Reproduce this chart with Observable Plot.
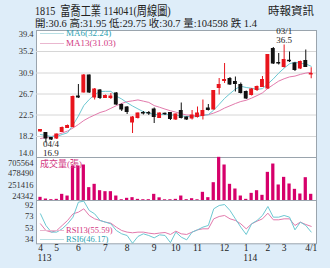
<!DOCTYPE html>
<html><head><meta charset="utf-8">
<script src="https://cdn.jsdelivr.net/npm/d3@7"></script>
<script src="https://cdn.jsdelivr.net/npm/@observablehq/plot@0.6"></script>
<style>
html,body{margin:0;padding:0;background:#deedf9;}
#c{position:relative;width:330px;height:268px;background:#deedf9;overflow:hidden;font-family:"Liberation Serif","DejaVu Serif","Noto Sans CJK TC",serif;color:#222;}
.t{position:absolute;white-space:nowrap;line-height:1;}
.p{position:absolute;left:0;}
.p svg{overflow:visible;}
</style></head>
<body><div id="c"></div>
<script>
// ---- data ----
const titleText = "1815\u2002富喬工業 114041(周線圖)";
const subtitleText = "開:30.6 高:31.95 低:29.75 收:30.7 量:104598 跌 1.4";
const sourceText = "時報資訊";

const open  = [19.2,18.9,17.9,17.8,19.1,19.9,20.1,26.2,27.0,30.4,26.0,27.4,25.9,25.9,26.8,24.5,24.0,21.0,21.9,22.9,22.9,23.6,21.9,22.75,22.9,21.6,23.3,22.0,21.8,22.1,22.3,23.8,23.6,27.9,29.3,29.7,29.1,28.5,27.1,26.5,27.5,28.1,27.8,35.7,32.9,32.1,33.35,32.8,31.8,33.3,30.6];
const high  = [19.6,19.0,18.0,18.7,20.1,20.5,26.3,28.6,30.6,30.5,27.8,27.6,26.5,26.8,27.0,24.7,24.2,22.2,22.9,23.2,23.2,23.9,22.9,22.9,23.0,22.7,24.9,22.1,23.4,24.1,25.5,24.6,27.4,29.8,32.8,30.0,30.1,28.9,27.3,27.8,28.3,30.2,34.6,36.0,34.8,36.5,35.1,33.0,33.3,35.5,31.95];
const low   = [19.1,16.9,17.4,17.6,19.0,19.8,19.9,25.8,26.9,26.8,25.5,25.6,25.8,25.6,24.4,23.2,22.6,18.8,21.7,22.5,22.4,20.8,21.8,22.4,21.4,21.4,21.7,21.4,21.5,21.9,21.5,23.3,23.5,26.5,28.8,28.4,27.1,26.7,25.6,26.3,27.2,28.0,27.6,32.6,32.5,31.9,33.0,31.2,31.6,32.0,29.75];
const close = [19.5,17.8,17.6,18.6,19.9,20.3,26.1,26.0,30.4,27.0,27.6,25.9,26.3,26.2,24.6,23.6,23.1,22.0,22.8,22.8,22.8,22.1,22.8,22.65,21.7,22.6,21.9,21.6,22.4,22.8,23.3,23.5,27.3,28.5,29.5,28.6,28.7,26.9,25.8,27.6,28.1,29.5,34.5,32.8,32.8,33.5,33.25,31.5,33.1,32.1,30.7];
const ma6   = [18.6,18.4,18.2,18.2,18.6,18.95,20.5,22.3,24.4,25.6,26.6,27.2,27.23,27.23,26.27,25.7,24.95,24.3,23.72,23.15,22.87,22.62,22.57,22.68,22.5,22.47,22.3,22.22,22.15,22.17,22.43,22.58,23.48,24.63,25.82,26.78,27.68,28.25,28.0,27.85,27.62,27.77,28.73,29.72,30.88,31.87,32.73,33.07,32.83,32.72,32.24];
const ma13  = [17.8,18.0,18.2,18.5,18.9,19.3,19.9,20.6,21.4,22.0,22.5,23.0,23.32,23.84,24.36,24.82,25.17,25.33,25.52,25.27,25.02,24.38,24.05,23.68,23.35,23.07,22.74,22.51,22.42,22.39,22.49,22.55,22.89,23.32,23.89,24.34,24.8,25.2,25.45,25.88,26.38,26.93,27.83,28.56,29.28,29.75,30.12,30.28,30.62,30.88,31.03];
const volume = [49000,18000,6000,12000,104000,73000,625000,625000,643000,227000,288000,171000,153000,153000,73000,5000,31000,43000,12000,5000,6000,104000,40000,4000,5000,12000,73000,6000,24000,4000,141000,43000,318000,784000,643000,288000,202000,73000,12000,122000,171000,86000,508000,661000,276000,416000,294000,196000,110000,410000,104598];
const rsi6  = [76.4,57.1,46.0,46.0,51.5,59.8,70.9,95.8,97.5,82.0,76.4,65.4,62.6,59.8,48.7,43.2,40.4,27.5,38.8,43.2,40.4,36.5,41.5,40.5,28.5,46.0,37.7,33.2,46.0,49.8,54.3,57.1,84.8,90.3,91.9,82.0,68.1,54.3,42.1,59.8,65.4,73.7,88.6,70.9,70.9,73.7,70.9,49.8,62.6,57.1,46.17];
const rsi13 = [59.8,48.7,46.0,48.7,57.1,65.4,76.4,79.2,84.8,73.7,68.1,65.4,62.6,60.9,54.3,48.7,46.0,44.9,46.0,46.0,44.3,43.2,44.5,45.4,42.1,47.6,43.2,42.1,46.0,49.8,51.5,51.5,68.1,72.0,73.7,68.1,65.4,59.8,51.5,59.8,64.3,68.1,77.5,66.5,66.5,68.1,68.1,57.1,62.6,58.7,55.59];

const priceTicks = [14.0, 18.2, 22.5, 26.7, 30.9, 35.2, 39.4];
const volumeTicks = [24342, 251416, 478490, 705564];
const rsiTicks = [34, 53, 73, 92];
const monthTickWeeks = [0, 3, 7, 12, 16, 21, 25, 29, 34, 38, 42, 45, 50];
const monthTickLabels = ["4","5","6","7","8","9","10","11","12","1","2","3","4/1"];
const yearTickWeeks = [0, 38];
const yearTickLabels = ["113", "114"];
const maLegend = ["MA6(32.24)", "MA13(31.03)"];
const rsiLegend = ["RSI13(55.59)", "RSI6(46.17)"];
const volumeLabel = "成交量(張)";
const highNote = {week: 45, price: 36.5, text: "03/1\n36.5"};
const lowNote = {week: 1, price: 16.9, text: "04/4\n16.9"};

// ---- styling ----
const RED = "#e8141c", BLACK = "#111111", CYAN = "#6cc8d2", PINK = "#e27aac";
const CYAN_T = "#2e9fb2", PINK_T = "#d2377f", MAG = "#d6006b", FRAME = "#9aa4ad", GRID = "#d6d6d6";
const W = 330, ML = 36, MR = 14;
const xDomain = [-0.74, 50.98];
const FONT = '"Liberation Serif","DejaVu Serif","Noto Sans CJK TC",serif';
const TICKFS = 8.5;

const root = document.getElementById("c");
function addText(txt, css) { const d = document.createElement("div"); d.className = "t"; d.textContent = txt; d.style.cssText += css; root.appendChild(d); return d; }
function addPlot(svg, top) { const d = document.createElement("div"); d.className = "p"; d.style.top = top + "px"; d.appendChild(svg); root.appendChild(d); }

const weeks = close.map((c, i) => ({
  i, o: open[i], h: high[i], l: low[i], c,
  col: close[i] > open[i] ? RED : BLACK
}));
const series = (arr) => arr.map((v, i) => ({i, v}));
const baseStyle = {background: "transparent", overflow: "visible", fontFamily: FONT, fontSize: "9px", color: "#222"};
const yLabel = (extra) => Object.assign({y: d => d, frameAnchor: "left", textAnchor: "end", dx: -3, fill: "#333", fontSize: TICKFS}, extra);

// ---- price panel ----
const pricePlot = Plot.plot({
  width: W, height: 129, marginTop: 2, marginBottom: 0, marginLeft: ML, marginRight: MR,
  x: {domain: xDomain, axis: null},
  y: {domain: [14.0, 39.4], axis: null},
  style: baseStyle,
  marks: [
    Plot.frame({fill: "white", stroke: FRAME}),
    Plot.ruleY(priceTicks.slice(1, -1), {stroke: GRID}),
    Plot.line(series(ma13), {x: "i", y: "v", stroke: PINK, strokeWidth: 1}),
    Plot.line(series(ma6), {x: "i", y: "v", stroke: CYAN, strokeWidth: 1}),
    Plot.ruleX(weeks, {x: "i", y1: "l", y2: "h", stroke: "col", strokeWidth: 1}),
    Plot.rect(weeks, {x1: d => d.i - 0.36, x2: d => d.i + 0.36, y1: "o", y2: "c", fill: "col", insetTop: -0.5, insetBottom: -0.5}),
    Plot.text(priceTicks.slice(1, -1), yLabel({text: d => d.toFixed(1)})),
    Plot.text(priceTicks.slice(-1), yLabel({text: d => d.toFixed(1), dy: 4})),
    Plot.text(priceTicks.slice(0, 1), yLabel({text: d => d.toFixed(1), dy: -4})),
    Plot.text([highNote], {x: "week", y: "price", text: "text", lineAnchor: "bottom", dy: -2, lineHeight: 1.0, fill: "#222"}),
    Plot.text([lowNote], {x: "week", y: "price", text: "text", lineAnchor: "top", dx: 5, dy: -2, lineHeight: 1.0, fill: "#222"})
  ]
});
addPlot(pricePlot, 28);

// ---- volume panel ----
const volPlot = Plot.plot({
  width: W, height: 43, marginTop: 0, marginBottom: 0, marginLeft: ML, marginRight: MR,
  x: {domain: xDomain, axis: null},
  y: {domain: [0, 790000], axis: null},
  style: baseStyle,
  marks: [
    Plot.frame({fill: "white", stroke: FRAME}),
    Plot.rect(series(volume), {x1: d => d.i - 0.3, x2: d => d.i + 0.3, y1: 0, y2: "v", fill: MAG, insetTop: -0.5}),
    Plot.text(volumeTicks.slice(0, 1), yLabel({text: d => String(d), dy: -2.5})),
    Plot.text(volumeTicks.slice(1, -1), yLabel({text: d => String(d), dy: -1.5})),
    Plot.text(volumeTicks.slice(-1), yLabel({text: d => String(d), dy: 1}))
  ]
});
addPlot(volPlot, 157);

// ---- RSI panel ----
const rsiPlot = Plot.plot({
  width: W, height: 68, marginTop: 0, marginBottom: 24.7, marginLeft: ML, marginRight: MR,
  x: {domain: xDomain, axis: null},
  y: {domain: [26.6, 98.6], axis: null},
  style: baseStyle,
  marks: [
    Plot.frame({fill: "white", stroke: FRAME}),
    Plot.line(series(rsi13), {x: "i", y: "v", stroke: PINK, strokeWidth: 1}),
    Plot.line(series(rsi6), {x: "i", y: "v", stroke: CYAN, strokeWidth: 1}),
    Plot.text(rsiTicks.slice(0, -1), yLabel({text: d => String(d)})),
    Plot.text(rsiTicks.slice(-1), yLabel({text: d => String(d), dy: 1})),
    Plot.text(monthTickWeeks, {x: d => d, text: (d, k) => monthTickLabels[k], frameAnchor: "bottom", dy: 7.5, fontSize: 9.5, fill: "#222"}),
    Plot.text(yearTickWeeks, {x: d => d, text: (d, k) => yearTickLabels[k], frameAnchor: "bottom", dx: 4, dy: 17, fontSize: 9.5, fill: "#222"})
  ]
});
addPlot(rsiPlot, 200);

// ---- header & legends ----
addText(titleText, `left:35px;top:4px;font-size:13px;color:#222;transform:scaleX(0.78);transform-origin:0 0;`);
addText(subtitleText, `left:35px;top:19px;font-size:10.5px;color:#222;`);
addText(sourceText, `right:16px;top:6px;font-size:11.5px;color:#222;`);

function legend(label, y, lineCol, textCol, fs) {
  const l = document.createElement("div");
  l.style.cssText = `position:absolute;left:40px;top:${y}px;width:24px;height:0;border-top:1px solid ${lineCol};`;
  root.appendChild(l);
  addText(label, `left:66px;top:${y - fs / 2}px;font-size:${fs}px;color:${textCol};`);
}
legend(maLegend[0], 33, "#b8dfe4", CYAN_T, 9);
legend(maLegend[1], 43, "#eab7cf", PINK_T, 9);
addText(volumeLabel, `left:40px;top:160px;font-size:9px;color:${PINK_T};`);
legend(rsiLegend[0], 230, "#eab7cf", PINK_T, 8.5);
legend(rsiLegend[1], 239, "#b8dfe4", CYAN_T, 8.5);
</script>
</body></html>
